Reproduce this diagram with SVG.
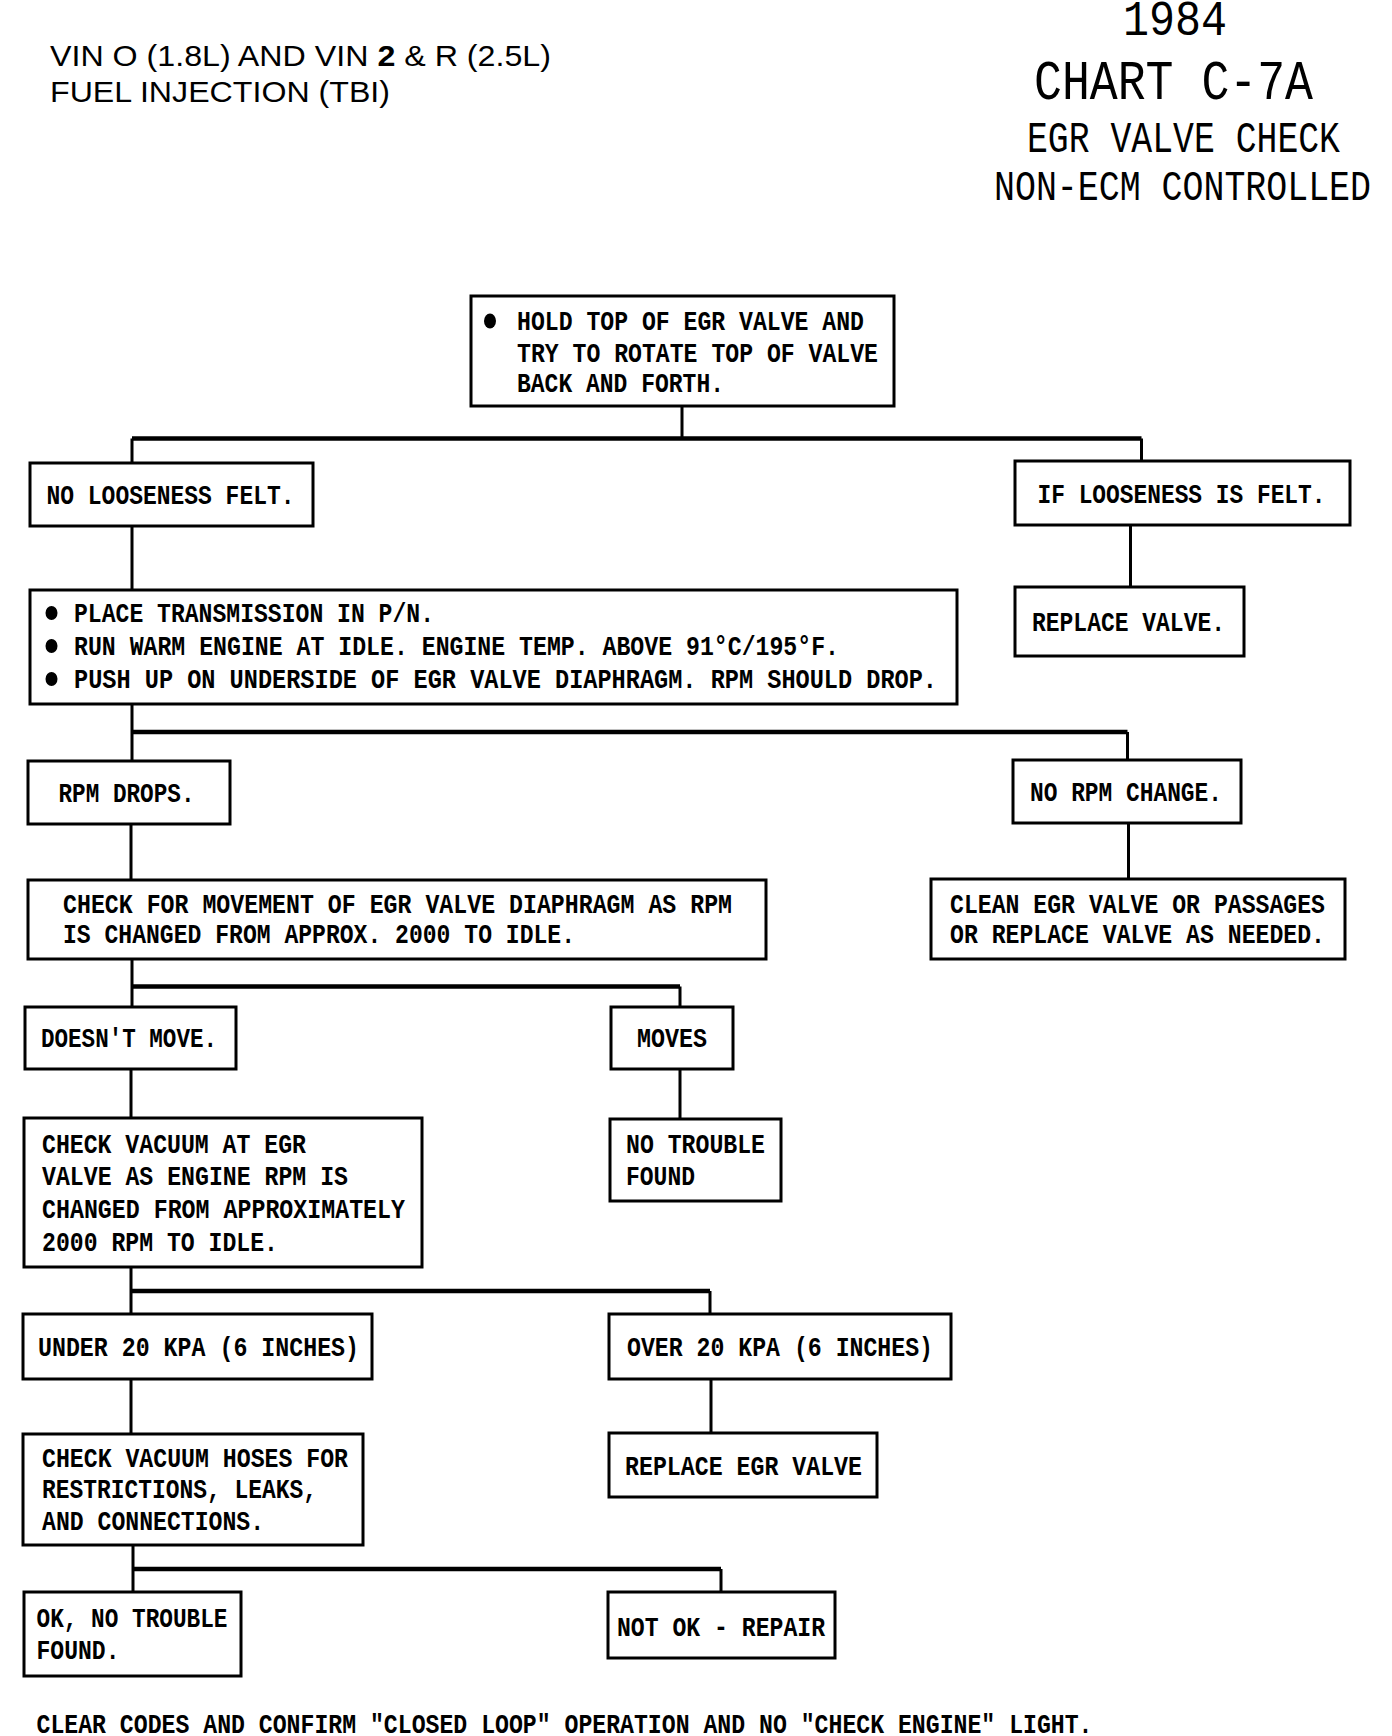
<svg xmlns="http://www.w3.org/2000/svg" width="1392" height="1736" viewBox="0 0 1392 1736">
<style>
.box{fill:#fff;stroke:#000;stroke-width:3}
.t{font-family:"Liberation Mono","DejaVu Sans Mono",monospace;font-size:28px;font-weight:bold;fill:#000}
.ti{font-family:"Liberation Mono","DejaVu Sans Mono",monospace;fill:#000}
.hd{font-family:"Liberation Sans",Arial,sans-serif;font-size:30px;fill:#000}
.c{stroke:#000;stroke-width:3;fill:none}
.hz{stroke:#000;stroke-width:4.5;fill:none}
.b{fill:#000}
</style>
<rect width="1392" height="1736" fill="#fff"/>
<g id="header">
<text class="hd" x="50" y="66" textLength="501" lengthAdjust="spacingAndGlyphs">VIN O (1.8L) AND VIN <tspan font-weight="bold">2</tspan> &amp; R (2.5L)</text>
<text class="hd" x="50" y="102" textLength="340" lengthAdjust="spacingAndGlyphs">FUEL INJECTION (TBI)</text>
</g>
<g id="title">
<text class="ti" x="1123" y="35" font-size="50" textLength="104" lengthAdjust="spacingAndGlyphs">1984</text>
<text class="ti" x="1034" y="99" font-size="55" textLength="279" lengthAdjust="spacingAndGlyphs">CHART C-7A</text>
<text class="ti" x="1027" y="152" font-size="44" textLength="313" lengthAdjust="spacingAndGlyphs">EGR VALVE CHECK</text>
<text class="ti" x="994" y="200" font-size="43" textLength="377" lengthAdjust="spacingAndGlyphs">NON-ECM CONTROLLED</text>
</g>
<g id="connectors">
<path class="c" d="M682 406 V438.5 M132 438.5 V463 M1141.5 438.5 V461"/>
<path class="hz" d="M132 438.5 H1141.5"/>
<path class="c" d="M1130.5 525 V587 M132 526 V590"/>
<path class="c" d="M132 704 V761 M1127.5 732 V760"/>
<path class="hz" d="M132 732 H1127.5"/>
<path class="c" d="M1128.5 823 V879 M131 824 V880"/>
<path class="c" d="M132 959 V1007 M680 986.5 V1007"/>
<path class="hz" d="M132 986.5 H680"/>
<path class="c" d="M680 1069 V1119 M131 1069 V1118"/>
<path class="c" d="M131 1267 V1314 M710 1291 V1314"/>
<path class="hz" d="M131 1291 H710"/>
<path class="c" d="M711 1379 V1433 M131 1379 V1434"/>
<path class="c" d="M133 1545 V1592 M721 1569 V1592"/>
<path class="hz" d="M133 1569 H721"/>
</g>
<g id="n1">
<rect class="box" x="471" y="296" width="423" height="110"/>
<ellipse class="b" cx="490" cy="321" rx="6" ry="7.5"/>
<text class="t" x="517" y="330" textLength="347" lengthAdjust="spacingAndGlyphs">HOLD TOP OF EGR VALVE AND</text>
<text class="t" x="517" y="362" textLength="361" lengthAdjust="spacingAndGlyphs">TRY TO ROTATE TOP OF VALVE</text>
<text class="t" x="517" y="392" textLength="207" lengthAdjust="spacingAndGlyphs">BACK AND FORTH.</text>
</g>
<g id="n2">
<rect class="box" x="30" y="463" width="283" height="63"/>
<text class="t" x="46.5" y="504" textLength="248" lengthAdjust="spacingAndGlyphs">NO LOOSENESS FELT.</text>
</g>
<g id="n3">
<rect class="box" x="1015" y="461" width="335" height="64"/>
<text class="t" x="1037.5" y="503" textLength="288" lengthAdjust="spacingAndGlyphs">IF LOOSENESS IS FELT.</text>
</g>
<g id="n4">
<rect class="box" x="1015" y="587" width="229" height="69"/>
<text class="t" x="1032" y="631" textLength="193" lengthAdjust="spacingAndGlyphs">REPLACE VALVE.</text>
</g>
<g id="n5">
<rect class="box" x="30" y="590" width="927" height="114"/>
<ellipse class="b" cx="51.5" cy="613" rx="6" ry="7"/>
<ellipse class="b" cx="51.5" cy="646" rx="6" ry="7"/>
<ellipse class="b" cx="51.5" cy="679" rx="6" ry="7"/>
<text class="t" x="74" y="622" textLength="360" lengthAdjust="spacingAndGlyphs">PLACE TRANSMISSION IN P/N.</text>
<text class="t" x="74" y="655" textLength="765" lengthAdjust="spacingAndGlyphs">RUN WARM ENGINE AT IDLE. ENGINE TEMP. ABOVE 91°C/195°F.</text>
<text class="t" x="74" y="688" textLength="863" lengthAdjust="spacingAndGlyphs">PUSH UP ON UNDERSIDE OF EGR VALVE DIAPHRAGM.  RPM SHOULD DROP.</text>
</g>
<g id="n6">
<rect class="box" x="28" y="761" width="202" height="63"/>
<text class="t" x="58.5" y="802" textLength="136" lengthAdjust="spacingAndGlyphs">RPM DROPS.</text>
</g>
<g id="n7">
<rect class="box" x="1013" y="760" width="228" height="63"/>
<text class="t" x="1030" y="801" textLength="192" lengthAdjust="spacingAndGlyphs">NO RPM CHANGE.</text>
</g>
<g id="n8">
<rect class="box" x="931" y="879" width="414" height="80"/>
<text class="t" x="950" y="913" textLength="375" lengthAdjust="spacingAndGlyphs">CLEAN EGR VALVE OR PASSAGES</text>
<text class="t" x="950" y="943" textLength="375" lengthAdjust="spacingAndGlyphs">OR REPLACE VALVE AS NEEDED.</text>
</g>
<g id="n9">
<rect class="box" x="28" y="880" width="738" height="79"/>
<text class="t" x="63" y="913" textLength="669" lengthAdjust="spacingAndGlyphs">CHECK FOR MOVEMENT OF EGR VALVE DIAPHRAGM AS RPM</text>
<text class="t" x="63" y="943" textLength="512" lengthAdjust="spacingAndGlyphs">IS CHANGED FROM APPROX. 2000 TO IDLE.</text>
</g>
<g id="n10">
<rect class="box" x="25" y="1007" width="211" height="62"/>
<text class="t" x="41" y="1047" textLength="176" lengthAdjust="spacingAndGlyphs">DOESN'T MOVE.</text>
</g>
<g id="n11">
<rect class="box" x="611" y="1007" width="122" height="62"/>
<text class="t" x="637" y="1047" textLength="70" lengthAdjust="spacingAndGlyphs">MOVES</text>
</g>
<g id="n12">
<rect class="box" x="610" y="1119" width="171" height="82"/>
<text class="t" x="626" y="1153" textLength="139" lengthAdjust="spacingAndGlyphs">NO TROUBLE</text>
<text class="t" x="626" y="1185" textLength="69" lengthAdjust="spacingAndGlyphs">FOUND</text>
</g>
<g id="n13">
<rect class="box" x="24" y="1118" width="398" height="149"/>
<text class="t" x="42" y="1153" textLength="264" lengthAdjust="spacingAndGlyphs">CHECK VACUUM AT EGR</text>
<text class="t" x="42" y="1185" textLength="306" lengthAdjust="spacingAndGlyphs">VALVE AS ENGINE RPM IS</text>
<text class="t" x="42" y="1218" textLength="363" lengthAdjust="spacingAndGlyphs">CHANGED FROM APPROXIMATELY</text>
<text class="t" x="42" y="1251" textLength="236" lengthAdjust="spacingAndGlyphs">2000 RPM TO IDLE.</text>
</g>
<g id="n14">
<rect class="box" x="23" y="1314" width="349" height="65"/>
<text class="t" x="38" y="1356" textLength="321" lengthAdjust="spacingAndGlyphs">UNDER 20 KPA (6 INCHES)</text>
</g>
<g id="n15">
<rect class="box" x="609" y="1314" width="342" height="65"/>
<text class="t" x="627" y="1356" textLength="306" lengthAdjust="spacingAndGlyphs">OVER 20 KPA (6 INCHES)</text>
</g>
<g id="n16">
<rect class="box" x="609" y="1433" width="268" height="64"/>
<text class="t" x="625" y="1475" textLength="237" lengthAdjust="spacingAndGlyphs">REPLACE EGR VALVE</text>
</g>
<g id="n17">
<rect class="box" x="23" y="1434" width="340" height="111"/>
<text class="t" x="42" y="1467" textLength="306" lengthAdjust="spacingAndGlyphs">CHECK VACUUM HOSES FOR</text>
<text class="t" x="42" y="1498" textLength="275" lengthAdjust="spacingAndGlyphs">RESTRICTIONS, LEAKS,</text>
<text class="t" x="42" y="1530" textLength="222" lengthAdjust="spacingAndGlyphs">AND CONNECTIONS.</text>
</g>
<g id="n18">
<rect class="box" x="24" y="1592" width="217" height="84"/>
<text class="t" x="36.5" y="1627" textLength="191" lengthAdjust="spacingAndGlyphs">OK, NO TROUBLE</text>
<text class="t" x="36.5" y="1659" textLength="83" lengthAdjust="spacingAndGlyphs">FOUND.</text>
</g>
<g id="n19">
<rect class="box" x="608" y="1592" width="227" height="66"/>
<text class="t" x="617" y="1636" textLength="208" lengthAdjust="spacingAndGlyphs">NOT OK - REPAIR</text>
</g>
<g id="footer">
<text class="t" x="36.5" y="1733" textLength="1056" lengthAdjust="spacingAndGlyphs">CLEAR CODES AND CONFIRM "CLOSED LOOP" OPERATION AND NO "CHECK ENGINE" LIGHT.</text>
</g>
</svg>
